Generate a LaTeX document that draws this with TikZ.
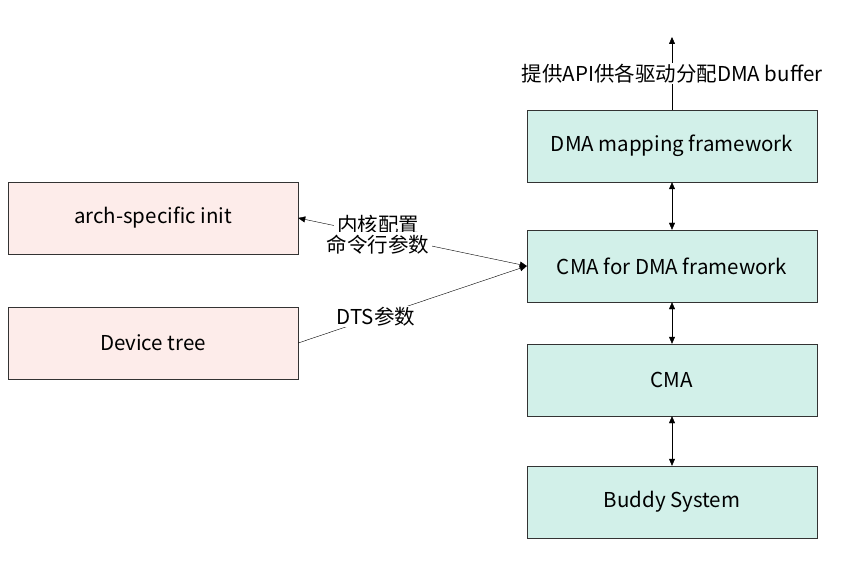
\documentclass[tikz,border=0pt]{standalone}
\usepackage{fontspec}
\setmainfont{Noto Sans CJK SC}
\usetikzlibrary{arrows.meta}
\definecolor{boxgreen}{HTML}{D2F0E9}
\definecolor{boxpink}{HTML}{FDECEA}
\tikzset{
  tip/.style={Triangle[length=7pt,width=6pt]},
  blk/.style={draw=black!80, minimum width=290pt, minimum height=72pt, inner sep=0pt, font=\fontsize{20.5}{24}\selectfont},
  rblk/.style={blk, fill=boxgreen},
  lblk/.style={blk, fill=boxpink},
  lbl/.style={font=\fontsize{20.5}{26}\selectfont, fill=white, inner sep=1pt, align=center},
  arr/.style={-{Triangle[length=7pt,width=6pt]}, thin}
}
\begin{document}
\begin{tikzpicture}[x=1pt,y=-1pt]
    \useasboundingbox (0,0) rectangle (859,561);
    % right column
    \node [rblk] (map)   at (672,146) {DMA mapping framework};
    \node [rblk] (cmadma) at (672,266) {CMA for DMA framework};
    \node [rblk] (cma)   at (672,380) {CMA};
    \node [rblk] (buddy) at (672,502) {Buddy System};
    % left column
    \node [lblk] (arch) at (153,218) {arch-specific init};
    \node [lblk] (dt)   at (153,343) {Device tree};

    \coordinate (top) at (672,37);
    \draw [arr] (map.north) -- (top) node [lbl, midway] {提供API供各驱动分配DMA buffer};
    \draw [arr, {Triangle[length=7pt,width=6pt]}-{Triangle[length=7pt,width=6pt]}] (map) -- (cmadma);
    \draw [arr, {Triangle[length=7pt,width=6pt]}-{Triangle[length=7pt,width=6pt]}] (cmadma) -- (cma);
    \draw [arr, {Triangle[length=7pt,width=6pt]}-{Triangle[length=7pt,width=6pt]}] (cma) -- (buddy);

    \draw [arr, {Triangle[length=7pt,width=6pt]}-{Triangle[length=7pt,width=6pt]}] (arch.east) -- (cmadma.west)
        node [lbl, pos=0.35, fill=none] {\colorbox{white}{内核配置}\\[-6pt]\colorbox{white}{命令行参数}};
    \draw [arr] (dt.east) -- (cmadma.west) node [lbl, pos=0.34] {DTS参数};
\end{tikzpicture}
\end{document}
